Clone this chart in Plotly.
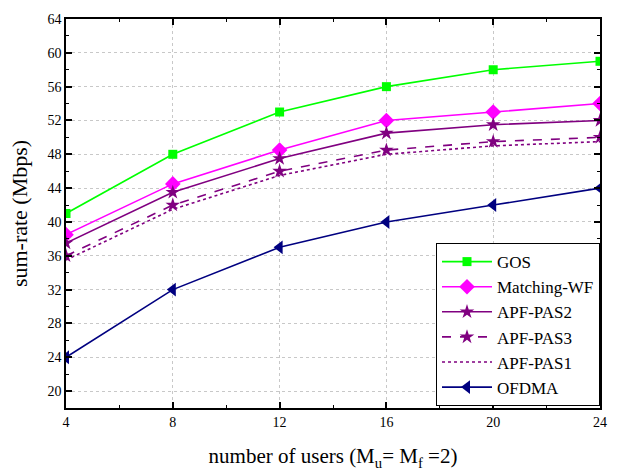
import plotly.graph_objects as go

users = [4, 8, 12, 16, 20, 24]
gos = [41, 48, 53, 56, 58, 59]
matching_wf = [38.5, 44.5, 48.5, 52, 53, 54]
apf_pas2 = [37.5, 43.5, 47.5, 50.5, 51.5, 52]
apf_pas3 = [36, 42, 46, 48.5, 49.5, 50]
apf_pas1 = [35.5, 41.5, 45.5, 48, 49, 49.5]
ofdma = [24, 32, 37, 40, 42, 44]

x_ticks = [4, 8, 12, 16, 20, 24]
y_ticks = [20, 24, 28, 32, 36, 40, 44, 48, 52, 56, 60, 64]

FONT = "Times New Roman, Liberation Serif, serif"

series = [
    ("GOS", gos, "#00ff00", "solid", "square", 9, True),
    ("Matching-WF", matching_wf, "#ff00ff", "solid", "diamond", 12, True),
    ("APF-PAS2", apf_pas2, "#800080", "solid", "star", 11, True),
    ("APF-PAS3", apf_pas3, "#800080", "dash", "star", 11, True),
    ("APF-PAS1", apf_pas1, "#800080", "dot", "star", 11, False),
    ("OFDMA", ofdma, "#000080", "solid", "triangle-left", 12, True),
]

fig = go.Figure()
for name, vals, color, dash, sym, size, show_marker in series:
    fig.add_trace(go.Scatter(
        x=users, y=vals, name=name,
        mode="lines+markers" if show_marker else "lines",
        line=dict(color=color, width=1.6, dash=dash),
        marker=dict(symbol=sym, size=size, color=color, line=dict(width=0)),
    ))

axis_common = dict(
    showline=True, linecolor="black", linewidth=1.5, mirror="ticks",
    ticks="inside", ticklen=6, tickwidth=1.5, tickcolor="black",
    showgrid=True, gridcolor="#c8c8c8", griddash="dot", gridwidth=1,
    zeroline=False,
    tickfont=dict(family=FONT, size=14, color="black"),
    minor=dict(ticks="inside", ticklen=3, tickwidth=1.2, tickcolor="black", showgrid=False),
)

fig.update_xaxes(
    range=[4, 24], tickvals=x_ticks, ticktext=[str(v) for v in x_ticks],
    title=dict(text="number of users (M<sub>u</sub>= M<sub>f</sub> =2)",
               font=dict(family=FONT, size=21, color="black"), standoff=20),
    **axis_common,
)
fig.update_xaxes(minor_dtick=2)
fig.update_yaxes(
    range=[18, 64], tickvals=y_ticks, ticktext=[str(v) for v in y_ticks],
    title=dict(text="sum-rate (Mbps)", font=dict(family=FONT, size=22, color="black"), standoff=14),
    **axis_common,
)
fig.update_yaxes(minor_dtick=2, minor_tick0=18)

fig.update_layout(
    width=619, height=476,
    margin=dict(l=66, r=18, t=14, b=67),
    plot_bgcolor="white", paper_bgcolor="white",
    font=dict(family=FONT, color="black"),
    legend=dict(
        x=1, y=0.005, xanchor="right", yanchor="bottom",
        bgcolor="white", bordercolor="black", borderwidth=1,
        font=dict(family=FONT, size=17, color="black"),
        tracegroupgap=0, itemwidth=50,
    ),
    showlegend=True,
)

fig.write_html("out.html")
